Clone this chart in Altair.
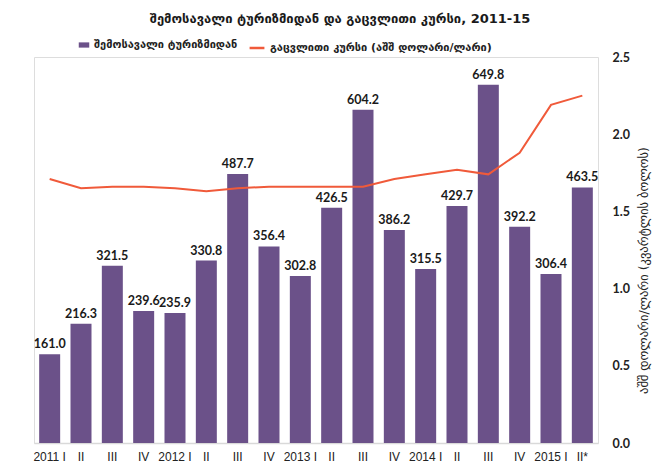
import altair as alt
import pandas as pd
import json

quarters = ["2011 I", "II", "III", "IV", "2012 I", "II", "III", "IV", "2013 I", "II", "III", "IV",
            "2014 I", "II", "III", "IV", "2015 I", "II*"]
revenue = [161.0, 216.3, 321.5, 239.6, 235.9, 330.8, 487.7, 356.4, 302.8, 426.5, 604.2, 386.2,
           315.5, 429.7, 649.8, 392.2, 306.4, 463.5]
rate = [1.71, 1.65, 1.66, 1.66, 1.65, 1.63, 1.65, 1.66, 1.66, 1.66, 1.66, 1.71,
        1.74, 1.77, 1.74, 1.88, 2.19, 2.25]

title_text = "შემოსავალი ტურიზმიდან და გაცვლითი კურსი, 2011-15"
bar_name = "შემოსავალი ტურიზმიდან"
line_name = "გაცვლითი კურსი (აშშ დოლარი/ლარი)"
left_title = "მლნ. აშშ დოლარი"
right_title = "აშშ დოლარი/ლარი (კვარტლის ბოლოს)"

keys = [f"{i:02d}" for i in range(len(quarters))]
df = pd.DataFrame({"key": keys, "revenue": revenue, "rate": rate,
                   "bar_s": bar_name, "line_s": line_name})

label_expr = json.dumps(quarters, ensure_ascii=False) + "[toNumber(datum.value)]"

GEO = "DejaVu Sans"
NUM = "Lato"
PURPLE = "#6B5189"
RED = "#F05A3A"

x = alt.X("key:O", title=None,
          scale=alt.Scale(paddingInner=0.33, paddingOuter=0.165),
          axis=alt.Axis(labelExpr=label_expr, labelAngle=0, ticks=False, domain=True,
                        domainColor="#d9d9d9", domainWidth=1.5, labelPadding=8,
                        labelFont="Liberation Sans", labelFontSize=12,
                        labelColor="#222222", grid=False))

y_left = alt.Y("revenue:Q", scale=alt.Scale(domain=[0, 700]),
               axis=alt.Axis(title=left_title, labels=False, ticks=False, domain=False, grid=False,
                             titleFont=GEO, titleFontSize=12, titleFontWeight="normal",
                             titleColor="#222222", titleAngle=270, titleX=-19, titleY=264,
                             titleBaseline="middle", titleAlign="center"))

bars = alt.Chart(df).mark_bar(color=PURPLE).encode(
    x=x,
    y=y_left,
    fill=alt.Fill("bar_s:N", scale=alt.Scale(range=[PURPLE]),
                  legend=alt.Legend(title=None, orient="none", legendX=44, legendY=-18,
                                    symbolType="M-1,-0.5H1V0.5H-1Z", symbolSize=110,
                                    labelFont=GEO, labelFontSize=11, labelColor="#222222",
                                    labelFontWeight="bold", labelLimit=400)),
)

texts = alt.Chart(df).mark_text(baseline="bottom", dy=-3, font=NUM, fontSize=12.5,
                                fontWeight="bold", color="#1a1a1a").encode(
    x=x,
    y=alt.Y("revenue:Q", scale=alt.Scale(domain=[0, 700]), axis=None),
    text=alt.Text("revenue:Q", format=".1f"),
)

line = alt.Chart(df).mark_line(strokeWidth=2).encode(
    x=x,
    y=alt.Y("rate:Q", scale=alt.Scale(domain=[0, 2.5]),
            axis=alt.Axis(orient="right", values=[0, 0.5, 1.0, 1.5, 2.0, 2.5], format=".1f",
                          ticks=False, domain=False, grid=False, labelPadding=14,
                          labelFont=NUM, labelFontSize=12.5, labelFontWeight="bold",
                          labelColor="#222222", labelAlign="left",
                          title=right_title, titleFont=GEO, titleFontSize=12.5,
                          titleFontWeight="normal", titleColor="#222222", titleAngle=270,
                          titleX=45, titleY=213, titleBaseline="middle", titleAlign="center",
                          titleLimit=400)),
    stroke=alt.Stroke("line_s:N", scale=alt.Scale(range=[RED]),
                      legend=alt.Legend(title=None, orient="none", legendX=214, legendY=-18,
                                        symbolType="stroke", symbolSize=220, symbolStrokeWidth=2.5,
                                        labelFont=GEO, labelFontSize=11, labelColor="#222222",
                                        labelFontWeight="bold", labelLimit=400)),
)

left_layer = alt.layer(bars, texts)
chart = alt.layer(left_layer, line).resolve_scale(y="independent", fill="independent",
                                                  stroke="independent").properties(
    width=564, height=386,
    autosize=alt.AutoSizeParams(type="none"),
    padding={"left": 34, "top": 57, "right": 55, "bottom": 27},
    title=alt.TitleParams(title_text, font=GEO, fontSize=13, fontWeight="bold",
                          color="#1a1a1a", anchor="middle", dx=24, offset=13),
).configure_view(stroke=None).configure(background="white")

chart.save("out.html", embed_options={"renderer": "svg", "actions": False})
